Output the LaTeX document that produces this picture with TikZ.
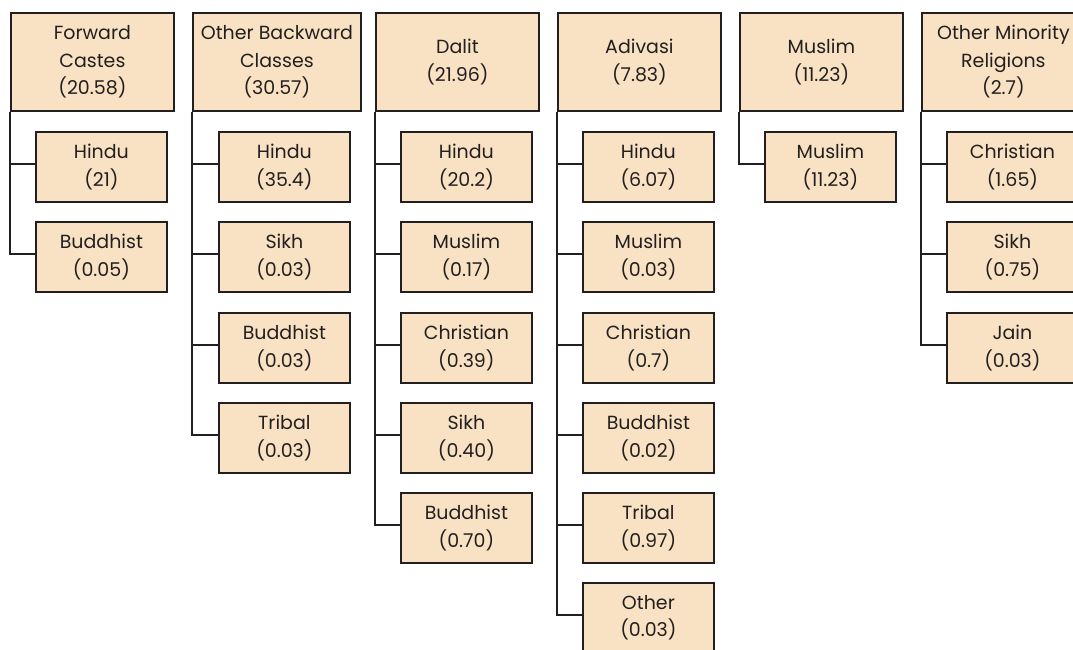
\documentclass[tikz,border=0pt]{standalone}
\usepackage{fontspec}
\setmainfont{Poppins}
\definecolor{peach}{HTML}{F9E2C3}
\definecolor{edge}{HTML}{231F20}
\begin{document}
\begin{tikzpicture}[x=1pt,y=-1pt,
  box/.style={draw=edge, fill=peach, line width=1.8pt, align=center, inner sep=0pt, text=edge,
    font=\fontsize{19}{27.5}\selectfont, anchor=north west},
  topbox/.style={box, minimum width=163pt, minimum height=98pt},
  kid/.style={box, minimum width=131pt, minimum height=70pt},
  link/.style={draw=edge, line width=1.8pt}]
\useasboundingbox (0,0) rectangle (1073,649);
\fill[white] (0,0) rectangle (1073,649);
\clip (0,0) rectangle (1073,649);
% Forward castes
\node[topbox] (fc) at (10,12) {Forward\\Castes\\(20.58)};
\node[kid] (fc1) at (35,131) {Hindu\\(21)};
\node[kid] (fc2) at (35,221) {Buddhist\\(0.05)};
% OBC
\node[topbox, minimum width=168pt] (ob) at (192,12) {Other Backward\\Classes\\(30.57)};
\node[kid] (ob1) at (218,131) {Hindu\\(35.4)};
\node[kid] (ob2) at (218,221) {Sikh\\(0.03)};
\node[kid] (ob3) at (218,312) {Buddhist\\(0.03)};
\node[kid] (ob4) at (218,402) {Tribal\\(0.03)};
% Dalit
\node[topbox] (da) at (375,12) {Dalit\\(21.96)};
\node[kid] (da1) at (400,131) {Hindu\\(20.2)};
\node[kid] (da2) at (400,221) {Muslim\\(0.17)};
\node[kid] (da3) at (400,312) {Christian\\(0.39)};
\node[kid] (da4) at (400,402) {Sikh\\(0.40)};
\node[kid] (da5) at (400,492) {Buddhist\\(0.70)};
% Adivasi
\node[topbox] (ad) at (557,12) {Adivasi\\(7.83)};
\node[kid] (ad1) at (582,131) {Hindu\\(6.07)};
\node[kid] (ad2) at (582,221) {Muslim\\(0.03)};
\node[kid] (ad3) at (582,312) {Christian\\(0.7)};
\node[kid] (ad4) at (582,402) {Buddhist\\(0.02)};
\node[kid] (ad5) at (582,492) {Tribal\\(0.97)};
\node[kid] (ad6) at (582,582) {Other\\(0.03)};
% Muslim
\node[topbox] (mu) at (739,12) {Muslim\\(11.23)};
\node[kid] (mu1) at (764,131) {Muslim\\(11.23)};
% Other minority religions
\node[topbox] (om) at (921,12) {Other Minority\\Religions\\(2.7)};
\node[kid] (om1) at (946,131) {Christian\\(1.65)};
\node[kid] (om2) at (946,221) {Sikh\\(0.75)};
\node[kid] (om3) at (946,312) {Jain\\(0.03)};
% connectors
\foreach \p/\n in {fc/2, ob/4, da/5, ad/6, mu/1, om/3}{
  \foreach \i in {1,...,\n}{
    \draw[link] (\p.south west) |- ([yshift=3pt]\p\i.west);
  }
}
\end{tikzpicture}
\end{document}
